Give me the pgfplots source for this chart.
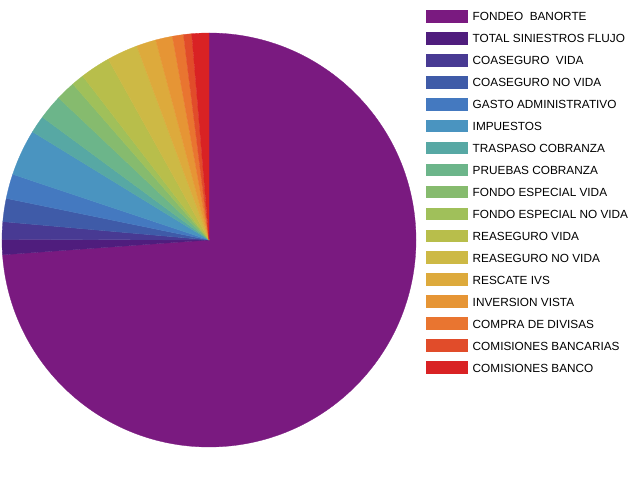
\documentclass[border=0pt]{standalone}
\usepackage{fontspec}
\setmainfont{Liberation Sans}
\usepackage{pgfplots}
\usepackage{pgfplotstable}
\pgfplotsset{compat=1.18}

\definecolor{c0}{HTML}{7A1A80}
\definecolor{c1}{HTML}{4F1D7D}
\definecolor{c2}{HTML}{483A93}
\definecolor{c3}{HTML}{3F5BA8}
\definecolor{c4}{HTML}{4479C0}
\definecolor{c5}{HTML}{4A94C0}
\definecolor{c6}{HTML}{57A8A4}
\definecolor{c7}{HTML}{6CB58A}
\definecolor{c8}{HTML}{86BB6E}
\definecolor{c9}{HTML}{A0C05A}
\definecolor{c10}{HTML}{B8BE4B}
\definecolor{c11}{HTML}{CDB945}
\definecolor{c12}{HTML}{DDAA3C}
\definecolor{c13}{HTML}{E69535}
\definecolor{c14}{HTML}{E97530}
\definecolor{c15}{HTML}{E14C2A}
\definecolor{c16}{HTML}{D92224}

\pgfplotstableread[col sep=comma]{
label,value
FONDEO BANORTE,73.86
TOTAL SINIESTROS FLUJO,1.19
COASEGURO VIDA,1.36
COASEGURO NO VIDA,1.81
GASTO ADMINISTRATIVO,1.92
IMPUESTOS,3.61
TRASPASO COBRANZA,1.36
PRUEBAS COBRANZA,1.94
FONDO ESPECIAL VIDA,1.53
FONDO ESPECIAL NO VIDA,0.97
REASEGURO VIDA,2.36
REASEGURO NO VIDA,2.42
RESCATE IVS,1.53
INVERSION VISTA,1.31
COMPRA DE DIVISAS,0.86
COMISIONES BANCARIAS,0.64
COMISIONES BANCO,1.33
}\piedata

\gdef\total{0}
\foreach \i in {0,...,16}{%
  \pgfplotstablegetelem{\i}{value}\of\piedata
  \pgfmathsetmacro\t{\total+\pgfplotsretval}%
  \xdef\total{\t}%
}
\gdef\cum{0}
\foreach \i in {0,...,16}{%
  \pgfplotstablegetelem{\i}{value}\of\piedata
  \let\v\pgfplotsretval
  \pgfmathsetmacro\sa{90-3.6*(\cum*100/\total)}%
  \pgfmathsetmacro\ea{90-3.6*((\cum+\v)*100/\total)}%
  \expandafter\xdef\csname sa\i\endcsname{\sa}%
  \expandafter\xdef\csname ea\i\endcsname{\ea}%
  \pgfmathsetmacro\c{\cum+\v}%
  \xdef\cum{\c}%
}

\begin{document}
\begin{tikzpicture}
\path[use as bounding box] (0,0) rectangle (640bp,480bp);
\begin{axis}[
  at={(209bp,240bp)}, anchor=center,
  width=414bp, height=414bp, scale only axis,
  hide axis, clip=false,
  xmin=-1, xmax=1, ymin=-1, ymax=1,
  legend image code/.code={\fill[#1, draw=none] (0bp,-6.35bp) rectangle (41.7bp,6.35bp);},
  legend cell align=left,
  legend style={at={(1.0242,1.0667)}, anchor=north west, draw=none, fill=none,
    inner sep=0pt, outer sep=0pt, column sep=5bp, row sep=0pt,
    font=\fontsize{11.8bp}{14bp}\selectfont,
    nodes={inner sep=0pt, minimum height=21.95bp, text height=9bp, text depth=0pt}},
]
\pgfplotsextra{%
  \foreach \i in {0,...,16}{%
    \edef\s{\csname sa\i\endcsname}%
    \edef\e{\csname ea\i\endcsname}%
    \fill[c\i, draw=c\i, line width=0.3pt, line join=round] (axis cs:0,0) -- (axis cs:{cos(\s)},{sin(\s)}) arc[start angle=\s, end angle=\e, radius=207bp] -- cycle;
  }%
}
\addlegendimage{fill=c0}\addlegendentry{FONDEO~~BANORTE}
\addlegendimage{fill=c1}\addlegendentry{TOTAL SINIESTROS FLUJO}
\addlegendimage{fill=c2}\addlegendentry{COASEGURO~~VIDA}
\addlegendimage{fill=c3}\addlegendentry{COASEGURO NO VIDA}
\addlegendimage{fill=c4}\addlegendentry{GASTO ADMINISTRATIVO}
\addlegendimage{fill=c5}\addlegendentry{IMPUESTOS}
\addlegendimage{fill=c6}\addlegendentry{TRASPASO COBRANZA}
\addlegendimage{fill=c7}\addlegendentry{PRUEBAS COBRANZA}
\addlegendimage{fill=c8}\addlegendentry{FONDO ESPECIAL VIDA}
\addlegendimage{fill=c9}\addlegendentry{FONDO ESPECIAL NO VIDA}
\addlegendimage{fill=c10}\addlegendentry{REASEGURO VIDA}
\addlegendimage{fill=c11}\addlegendentry{REASEGURO NO VIDA}
\addlegendimage{fill=c12}\addlegendentry{RESCATE IVS}
\addlegendimage{fill=c13}\addlegendentry{INVERSION VISTA}
\addlegendimage{fill=c14}\addlegendentry{COMPRA DE DIVISAS}
\addlegendimage{fill=c15}\addlegendentry{COMISIONES BANCARIAS}
\addlegendimage{fill=c16}\addlegendentry{COMISIONES BANCO}
\end{axis}
\end{tikzpicture}
\end{document}
